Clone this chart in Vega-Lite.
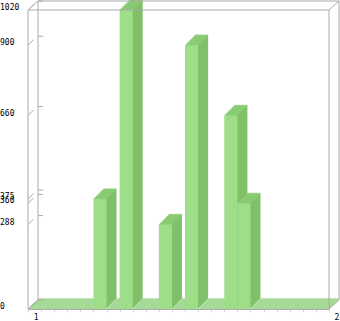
{
  "$schema": "https://vega.github.io/schema/vega-lite/v6.json",
  "width": 301,
  "height": 299,
  "autosize": "none",
  "padding": {"left": 28, "top": 10, "right": 11, "bottom": 12},
  "background": "white",
  "config": {"view": {"stroke": null}},
  "datasets": {
    "bars": [
      {"i": 1, "v": 0}, {"i": 2, "v": 0}, {"i": 3, "v": 0}, {"i": 4, "v": 0},
      {"i": 5, "v": 0}, {"i": 6, "v": 375}, {"i": 7, "v": 0}, {"i": 8, "v": 1020},
      {"i": 9, "v": 0}, {"i": 10, "v": 0}, {"i": 11, "v": 288}, {"i": 12, "v": 0},
      {"i": 13, "v": 900}, {"i": 14, "v": 0}, {"i": 15, "v": 0}, {"i": 16, "v": 660},
      {"i": 17, "v": 360}, {"i": 18, "v": 0}, {"i": 19, "v": 0}, {"i": 20, "v": 0},
      {"i": 21, "v": 0}, {"i": 22, "v": 0}, {"i": 23, "v": 0}
    ],
    "ticks": [{"v": 0}, {"v": 288}, {"v": 360}, {"v": 375}, {"v": 660}, {"v": 900}, {"v": 1020}],
    "one": [{}]
  },
  "layer": [
    {
      "data": {"name": "bars"},
      "encoding": {
        "x": {
          "field": "i", "type": "ordinal",
          "scale": {"paddingInner": 0, "paddingOuter": 0},
          "axis": {
            "title": null, "labelAngle": 0, "tickBand": "extent",
            "labelExpr": "datum.value == 1 ? '1' : datum.value == 23 ? '2' : ''",
            "domainColor": "#aaaaaa", "tickColor": "#d4d4d4", "tickSize": 3,
            "labelFont": "DejaVu Sans Mono", "labelFontSize": 8, "labelColor": "#000000",
            "labelPadding": 1, "labelOverlap": false, "labelBound": false, "labelFlush": false,
            "labelOffset": {"condition": {"test": "datum.value == 23", "value": 14}, "value": 1},
            "zindex": 1
          }
        },
        "y": {
          "field": "v", "type": "quantitative",
          "scale": {"domain": [0, 1020], "nice": false},
          "axis": null
        }
      },
      "layer": [
        {"mark": {"type": "bar", "color": "#80c06a", "xOffset": 10, "yOffset": -10, "y2Offset": -10}},
        {"mark": {"type": "tick", "color": "#8ccf78", "xOffset": 10, "yOffset": -10, "thickness": 1.5, "size": 13.09}},
        {"mark": {"type": "bar", "color": "#80c06a", "xOffset": 9, "yOffset": -9, "y2Offset": -9}},
        {"mark": {"type": "tick", "color": "#8ccf78", "xOffset": 9, "yOffset": -9, "thickness": 1.5, "size": 13.09}},
        {"mark": {"type": "bar", "color": "#80c06a", "xOffset": 8, "yOffset": -8, "y2Offset": -8}},
        {"mark": {"type": "tick", "color": "#8ccf78", "xOffset": 8, "yOffset": -8, "thickness": 1.5, "size": 13.09}},
        {"mark": {"type": "bar", "color": "#80c06a", "xOffset": 7, "yOffset": -7, "y2Offset": -7}},
        {"mark": {"type": "tick", "color": "#8ccf78", "xOffset": 7, "yOffset": -7, "thickness": 1.5, "size": 13.09}},
        {"mark": {"type": "bar", "color": "#80c06a", "xOffset": 6, "yOffset": -6, "y2Offset": -6}},
        {"mark": {"type": "tick", "color": "#8ccf78", "xOffset": 6, "yOffset": -6, "thickness": 1.5, "size": 13.09}},
        {"mark": {"type": "bar", "color": "#80c06a", "xOffset": 5, "yOffset": -5, "y2Offset": -5}},
        {"mark": {"type": "tick", "color": "#8ccf78", "xOffset": 5, "yOffset": -5, "thickness": 1.5, "size": 13.09}},
        {"mark": {"type": "bar", "color": "#80c06a", "xOffset": 4, "yOffset": -4, "y2Offset": -4}},
        {"mark": {"type": "tick", "color": "#8ccf78", "xOffset": 4, "yOffset": -4, "thickness": 1.5, "size": 13.09}},
        {"mark": {"type": "bar", "color": "#80c06a", "xOffset": 3, "yOffset": -3, "y2Offset": -3}},
        {"mark": {"type": "tick", "color": "#8ccf78", "xOffset": 3, "yOffset": -3, "thickness": 1.5, "size": 13.09}},
        {"mark": {"type": "bar", "color": "#80c06a", "xOffset": 2, "yOffset": -2, "y2Offset": -2}},
        {"mark": {"type": "tick", "color": "#8ccf78", "xOffset": 2, "yOffset": -2, "thickness": 1.5, "size": 13.09}},
        {"mark": {"type": "bar", "color": "#80c06a", "xOffset": 1, "yOffset": -1, "y2Offset": -1}},
        {"mark": {"type": "tick", "color": "#8ccf78", "xOffset": 1, "yOffset": -1, "thickness": 1.5, "size": 13.09}},
        {"mark": {"type": "tick", "color": "#8ccf78", "thickness": 1.5, "size": 13.09}},
        {"mark": {"type": "bar", "color": "#9ede88"}}
      ]
    },
    {
      "data": {"name": "ticks"},
      "mark": {"type": "text", "align": "left", "baseline": "middle", "dy": -2, "font": "DejaVu Sans Mono", "fontSize": 8, "color": "#000000"},
      "encoding": {
        "x": {"value": -28},
        "y": {"field": "v", "type": "quantitative", "axis": null},
        "text": {"field": "v", "type": "quantitative", "format": "d"}
      }
    },
    {
      "data": {"name": "ticks"},
      "mark": {"type": "rule", "color": "#aaaaaa", "yOffset": -9},
      "encoding": {
        "x": {"value": 10}, "x2": {"value": 15},
        "y": {"field": "v", "type": "quantitative", "axis": null}
      }
    },
    {
      "data": {"name": "ticks"},
      "mark": {"type": "rule", "color": "#aaaaaa", "y2Offset": -5.5},
      "encoding": {
        "x": {"value": 0}, "x2": {"value": 5.5},
        "y": {"field": "v", "type": "quantitative", "axis": null},
        "y2": {"field": "v"}
      }
    },
    {
      "data": {"name": "one"},
      "mark": {"type": "rule", "color": "#aaaaaa"},
      "encoding": {
        "x": {"value": 0}, "x2": {"value": 301},
        "y": {"datum": 1020, "type": "quantitative", "axis": null}
      }
    },
    {
      "data": {"name": "one"},
      "mark": {"type": "rule", "color": "#aaaaaa"},
      "encoding": {
        "x": {"value": 0},
        "y": {"datum": 1020, "type": "quantitative", "axis": null},
        "y2": {"datum": 0}
      }
    },
    {
      "data": {"name": "one"},
      "mark": {"type": "rule", "color": "#aaaaaa"},
      "encoding": {
        "x": {"value": 301},
        "y": {"datum": 1020, "type": "quantitative", "axis": null},
        "y2": {"datum": 0}
      }
    },
    {
      "data": {"name": "one"},
      "mark": {"type": "rule", "color": "#aaaaaa", "yOffset": -9},
      "encoding": {
        "x": {"value": 10}, "x2": {"value": 311},
        "y": {"datum": 1020, "type": "quantitative", "axis": null}
      }
    },
    {
      "data": {"name": "one"},
      "mark": {"type": "rule", "color": "#aaaaaa", "yOffset": -9, "y2Offset": -9},
      "encoding": {
        "x": {"value": 10},
        "y": {"datum": 1020, "type": "quantitative", "axis": null},
        "y2": {"datum": 0}
      }
    },
    {
      "data": {"name": "one"},
      "mark": {"type": "rule", "color": "#aaaaaa", "yOffset": -9, "y2Offset": -9},
      "encoding": {
        "x": {"value": 311},
        "y": {"datum": 1020, "type": "quantitative", "axis": null},
        "y2": {"datum": 0}
      }
    },
    {
      "data": {"name": "one"},
      "mark": {"type": "rule", "color": "#aaaaaa", "y2Offset": -9},
      "encoding": {
        "x": {"value": 0}, "x2": {"value": 10},
        "y": {"datum": 1020, "type": "quantitative", "axis": null},
        "y2": {"datum": 1020}
      }
    },
    {
      "data": {"name": "one"},
      "mark": {"type": "rule", "color": "#aaaaaa", "y2Offset": -9},
      "encoding": {
        "x": {"value": 301}, "x2": {"value": 311},
        "y": {"datum": 1020, "type": "quantitative", "axis": null},
        "y2": {"datum": 1020}
      }
    },
    {
      "data": {"name": "one"},
      "mark": {"type": "rule", "color": "#aaaaaa", "y2Offset": -9},
      "encoding": {
        "x": {"value": 301}, "x2": {"value": 311},
        "y": {"datum": 0, "type": "quantitative", "axis": null},
        "y2": {"datum": 0}
      }
    },
    {
      "data": {"name": "one"},
      "mark": {"type": "rule", "color": "#aaaaaa", "y2Offset": -9},
      "encoding": {
        "x": {"value": 0}, "x2": {"value": 10},
        "y": {"datum": 0, "type": "quantitative", "axis": null},
        "y2": {"datum": 0}
      }
    }
  ]
}
